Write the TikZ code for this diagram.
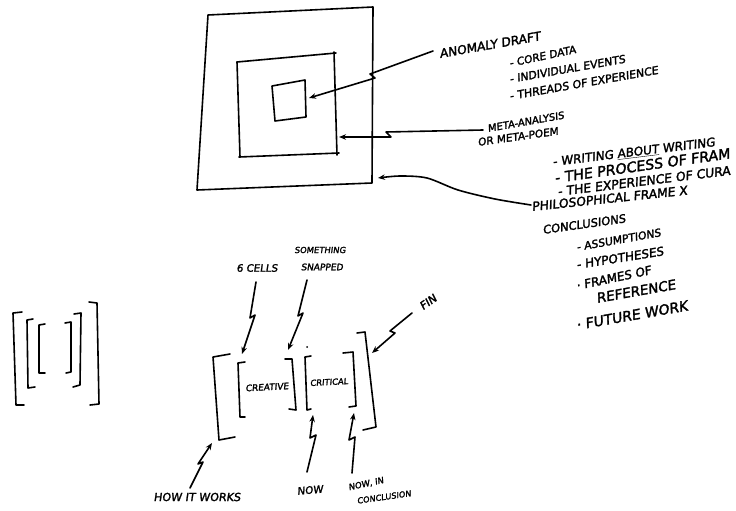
\documentclass[tikz,border=0pt]{standalone}
\usepackage{fontspec}
\newfontfamily\hand{DejaVu Sans}[FakeSlant=0.14,FakeBold=2]
\usetikzlibrary{arrows.meta}
\tikzset{
  ink/.style={line width=1.6pt, line cap=round, line join=round},
  arr/.style={ink, -{Stealth[length=7pt,width=5.5pt]}},
  txt/.style={font=\hand\fontsize{#1}{#1}\selectfont, anchor=base west, inner sep=0pt},
  txt/.default=11,
  ctxt/.style={font=\hand\fontsize{#1}{#1}\selectfont, anchor=center, inner sep=0pt},
  ctxt/.default=10,
}
\begin{document}
\begin{tikzpicture}[x=1pt,y=-1pt]
\useasboundingbox (0,0) rectangle (736,511);
\fill[white] (0,0) rectangle (736,511);
\clip (0,0) rectangle (736,511);

% ---- nested squares ----
\draw[ink] (208,15) -- (373,7) -- (372,183) -- (197,190) -- cycle;
\draw[ink] (237,62) -- (336,53);
\draw[ink] (334,52) -- (337,155);
\draw[ink] (239,157) -- (339,153);
\draw[ink] (237,62) -- (240,157);
\draw[ink] (272,86) -- (305,80) -- (306,117) -- (275,121) -- cycle;

\coordinate (sqin) at (309,98);
\coordinate (sqmid) at (339,137);
\coordinate (sqout) at (378,178);

% ---- right-hand texts ----
\node[txt=12.2,rotate=10] (anom) at (440,58) {ANOMALY DRAFT};
\node[txt=10.6,rotate=12] (core) at (510,67) {- CORE DATA};
\node[txt=10.9,rotate=10] (indiv) at (510,83) {- INDIVIDUAL EVENTS};
\node[txt=11,rotate=10] (thr) at (510,100) {- THREADS OF EXPERIENCE};
\node[txt=10,rotate=10] (meta) at (488,132) {META-ANALYSIS};
\node[txt=10.5,rotate=8] (poem) at (478,146) {OR META-POEM};
\node[txt=12,rotate=7] (wr) at (553,166) {- WRITING \underline{ABOUT} WRITING};
\node[txt=14.2,rotate=8] (proc) at (555,183) {- THE PROCESS OF FRAM};
\node[txt=12.4,rotate=7] (exp) at (558,196) {- THE EXPERIENCE OF CURA};
\node[txt=12.3,rotate=6] (phil) at (532,211) {PHILOSOPHICAL FRAME X};
\node[txt=11.5,rotate=8] (concl) at (543,234) {CONCLUSIONS};
\node[txt=10.8,rotate=10] (ass) at (577,251) {- ASSUMPTIONS};
\node[txt=12,rotate=9] (hyp) at (577,269) {- HYPOTHESES};
\node[txt=12,rotate=12] (fr) at (577,290) {· FRAMES OF};
\node[txt=13.5,rotate=10] (ref) at (597,303) {REFERENCE};
\node[txt=14,rotate=10] (fut) at (577,330) {· FUTURE WORK};

\coordinate (a1) at (433,51);
\coordinate (a2) at (483,130);
\coordinate (a3) at (531,205);

\draw[arr] (a1) -- (370,74) -- (375,78) -- (sqin);
\draw[arr] (a2) -- (386,132) -- (391,137) -- (sqmid);
\draw[arr] plot[smooth] coordinates {(a3) (495,199) (458,190) (427,178) (400,176) (sqout)};

% ---- left nested brackets ----
\draw[ink] (22,312) -- (13,313) -- (16,405) -- (24,405);
\draw[ink] (89,302) -- (97,303) -- (99,404) -- (90,405);
\draw[ink] (33,319) -- (27,320) -- (28,388) -- (35,387);
\draw[ink] (74,314) -- (81,313) -- (80,385) -- (73,387);
\draw[ink] (45,324) -- (39,325) -- (39,373) -- (45,373);
\draw[ink] (65,323) -- (71,322) -- (71,372) -- (66,373);

% ---- middle brackets ----
\draw[ink] (230,354) -- (213,357) -- (219,440) -- (235,437);
\draw[ink] (245,362) -- (238,363) -- (240,417) -- (245,417);
\draw[ink] (285,359) -- (292,359) -- (296,410) -- (289,409);
\draw[ink] (311,356) -- (305,357) -- (307,410) -- (311,409);
\draw[ink] (343,353) -- (353,352) -- (356,406) -- (349,407);
\draw[ink] (357,333) -- (365,332) -- (376,427) -- (363,430);
\fill (307,347) circle (1pt);

\node[ctxt=8.9,rotate=3] (cre) at (267,387) {CREATIVE};
\node[ctxt=8.4,rotate=3] (cri) at (329,382) {CRITICAL};

\node[ctxt=10.2] (cells) at (257,268) {6 CELLS};
\node[ctxt=8.4] (some) at (320,250) {SOMETHING};
\node[ctxt=9] (snap) at (322,267) {SNAPPED};
\node[ctxt=11,rotate=35] (fin) at (428,302) {FIN};

\node[ctxt=11.1] (how) at (197,497) {HOW IT WORKS};
\node[ctxt=10.3,rotate=5] (now) at (310,490) {NOW};
\node[ctxt=8.5,rotate=12] (nowin) at (366,484) {NOW, IN};
\node[ctxt=8.2,rotate=8] (conc2) at (384,497) {CONCLUSION};

\coordinate (t1) at (242,354);
\coordinate (t2) at (288,350);
\coordinate (t3) at (372,353);
\coordinate (b1) at (212,443);
\coordinate (b2) at (313,415);
\coordinate (b3) at (354,413);

\draw[arr] (256,282) -- (250,318) -- (255,315) -- (t1);
\draw[arr] (307,280) -- (298,316) -- (303,313) -- (t2);
\draw[arr] (412,313) -- (390,331) -- (395,333) -- (t3);
\draw[arr] (190,488) -- (203,462) -- (198,464) -- (b1);
\draw[arr] (307,472) -- (316,435) -- (310,438) -- (b2);
\draw[arr] (352,473) -- (355,437) -- (349,440) -- (b3);
\end{tikzpicture}
\end{document}
